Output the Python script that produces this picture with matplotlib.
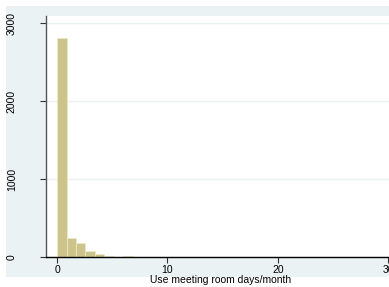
import numpy as np
import matplotlib
matplotlib.use("Agg")
import matplotlib.pyplot as plt
from matplotlib.patches import Rectangle

plt.rcParams['font.family'] = ['Liberation Sans', 'DejaVu Sans']

# histogram: 35 bins over 0..30 days/month, frequencies per bin
n_bins = 35
x_range = (0, 30)
counts = [2805, 240, 176, 77, 38, 17, 0, 14, 0, 0,
          0, 0, 0, 0, 5, 0, 0, 4, 0, 0,
          0, 0, 0, 6, 0, 0, 0, 0, 0, 0,
          3, 0, 0, 0, 4]
xticks = [0, 10, 20, 30]
yticks = [0, 1000, 2000, 3000]
xlabel = 'Use meeting room days/month'

edges = np.linspace(x_range[0], x_range[1], n_bins + 1)

W, H = 389, 287
fig = plt.figure(figsize=(W / 100, H / 100), dpi=100)
fig.patch.set_facecolor('white')

# light blue graph region (behind the axes)
fig.patches.append(Rectangle((6 / W, 1 - 277 / H), 1, (277 - 6) / H,
                             transform=fig.transFigure, facecolor='#eaf2f3',
                             edgecolor='none', zorder=-10))

left, right, top, bottom = 46, 396, 16, 257
ax = fig.add_axes([left / W, 1 - bottom / H, (right - left) / W, (bottom - top) / H])
ax.set_facecolor('white')

ax.bar(edges[:-1], counts, width=edges[1] - edges[0], align='edge',
       color='#ccc48a', edgecolor='#ebe7c8', linewidth=0.6, zorder=2)

ax.set_xlim(-1.0, 30.7)
ax.set_ylim(0, 3090)
ax.set_xticks(xticks)
ax.set_yticks(yticks)
ax.grid(axis='y', color='#eaf2f3', linewidth=1.0, zorder=1)
ax.grid(axis='x', visible=False)

for s in ['top', 'right']:
    ax.spines[s].set_visible(False)
ax.spines['left'].set_color('#555555')
ax.spines['left'].set_linewidth(1.0)
ax.spines['bottom'].set_color('black')
ax.spines['bottom'].set_linewidth(1.0)

ax.tick_params(axis='y', length=4, width=0.8, color='#333333', pad=17,
               labelsize=7.5, labelrotation=90)
for t in ax.get_yticklabels():
    t.set_va('center')
ax.tick_params(axis='x', length=4, width=0.8, color='#333333', pad=1.5,
               labelsize=7.5)

ax.set_xlabel(xlabel, fontsize=7.5, labelpad=0)

fig.savefig('out.png', dpi=100)
